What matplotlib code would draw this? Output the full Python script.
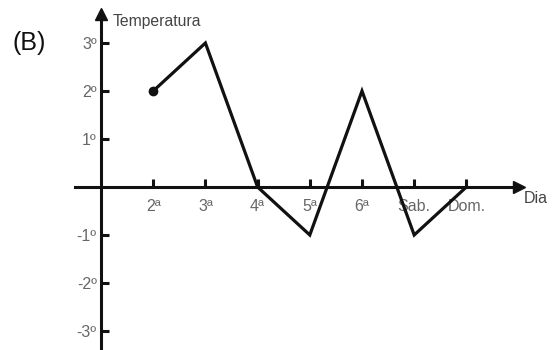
import numpy as np
from matplotlib import pyplot as plt

plt.rcParams['font.family'] = ['Liberation Sans', 'DejaVu Sans']

dias = ['2ª', '3ª', '4ª', '5ª', '6ª', 'Sab.', 'Dom.']
temperaturas = [2, 3, 0, -1, 2, -1, 0]
y_ticks = [-3, -2, -1, 1, 2, 3]
y_labels = ['-3º', '-2º', '-1º', '1º', '2º', '3º']

x = np.arange(1, len(dias) + 1)

fig = plt.figure(figsize=(5.52, 3.5), dpi=100)
ax = fig.add_axes([0, 0, 1, 1])
ax.set_xlim(-1.935, 8.64)
ax.set_ylim(-3.396, 3.896)

# axes through the origin
for s in ['top', 'right']:
    ax.spines[s].set_visible(False)
ax.spines['left'].set_position(('data', 0))
ax.spines['bottom'].set_position(('data', 0))
ax.spines['left'].set_bounds(-3.5, 3.55)
ax.spines['bottom'].set_bounds(-0.5, 8.0)
for s in ['left', 'bottom']:
    ax.spines[s].set_linewidth(2.2)
    ax.spines[s].set_color('#111111')
    ax.spines[s].set_zorder(3)

# arrow heads
ax.plot(8.0, 0, marker='>', ms=9, color='#111111', clip_on=False, zorder=4)
ax.plot(0, 3.6, marker='^', ms=9, color='#111111', clip_on=False, zorder=4)

ax.set_xticks(x)
ax.set_xticklabels(dias)
ax.set_yticks(y_ticks)
ax.set_yticklabels(y_labels)
ax.tick_params(axis='both', direction='in', length=6, width=2.2, color='#111111',
               labelcolor='#666666', labelsize=11.5)
ax.tick_params(axis='x', pad=9)
ax.tick_params(axis='y', pad=3)

ax.plot(x, temperaturas, color='#111111', lw=2.3, solid_joinstyle='miter', zorder=5)
ax.plot(x[0], temperaturas[0], 'o', color='#111111', ms=6, zorder=6)

ax.text(0.22, 3.44, 'Temperatura', fontsize=11.3, color='#444444', va='center', ha='left')
ax.text(8.1, -0.23, 'Dia', fontsize=11.5, color='#444444', va='center', ha='left')
ax.text(-1.7, 3.0, '(B)', fontsize=18, color='#111111', va='center', ha='left')

fig.savefig('out.png', dpi=100)
